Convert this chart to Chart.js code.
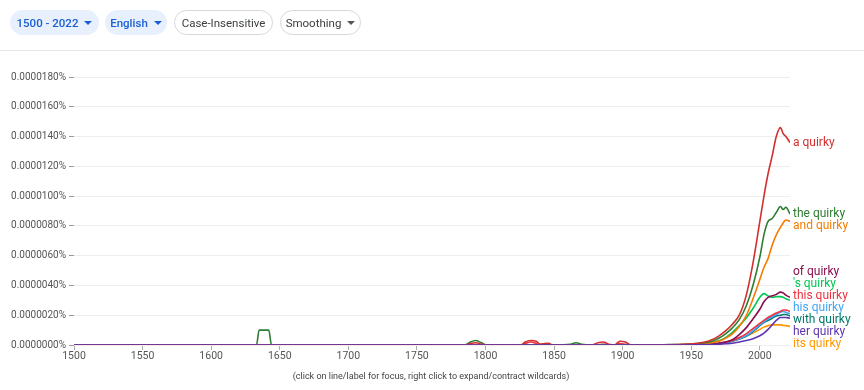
<!DOCTYPE html>
<html>
<head>
<meta charset="utf-8">
<script src="https://cdn.jsdelivr.net/npm/chart.js@4.4.0/dist/chart.umd.min.js"></script>
<style>
body { margin: 0; width: 864px; height: 390px; overflow: hidden; background: #fff; font-family: Roboto, sans-serif; position: relative; }
#chart { position: absolute; left: 0; top: 0; }
.bar { position: absolute; left: 0; top: 0; width: 864px; height: 50px; border-bottom: 1px solid #e6e6e6; }
.pill { position: absolute; top: 10px; height: 25px; border-radius: 13px; box-sizing: border-box; font-size: 11.5px;
        display: flex; align-items: center; justify-content: center; }
.blue { background: #e8f0fe; color: #1a5fcf; font-weight: 500; }
.plain { border: 1px solid #d6d8db; color: #3c4043; }
.arrow { display: inline-block; width: 0; height: 0; margin-left: 6px; border-left: 4px solid transparent;
         border-right: 4px solid transparent; border-top: 4px solid currentColor; }
.note { position: absolute; left: 0; width: 862px; top: 371px; text-align: center; font-size: 9px; color: #444; }
</style>
</head>
<body>
<canvas id="chart" width="864" height="390"></canvas>
<div class="bar">
  <div class="pill blue" style="left:10px;width:89px">1500 - 2022<span class="arrow"></span></div>
  <div class="pill blue" style="left:105px;width:62px">English<span class="arrow"></span></div>
  <div class="pill plain" style="left:174px;width:99px">Case-Insensitive</div>
  <div class="pill plain" style="left:280px;width:81px">Smoothing<span class="arrow" style="color:#555"></span></div>
</div>
<div class="note">(click on line/label for focus, right click to expand/contract wildcards)</div>
<script>
// values in millionths of a percent (1 = 0.0000010%)
let years = [1500, 1633, 1635, 1642, 1644, 1785, 1789, 1793, 1797, 1801,
             1826, 1829, 1833, 1837, 1840, 1843, 1846, 1849, 1862, 1866,
             1870, 1878, 1882, 1886, 1890, 1894, 1898, 1902, 1906, 1930,
             1940, 1950, 1955, 1960, 1965, 1970, 1975, 1980, 1985, 1990,
             1995, 2000, 2003, 2006, 2009, 2012, 2015, 2017, 2019, 2022];

let aQuirky    = [0, 0, 0, 0, 0, 0, 0.1, 0.15, 0.05, 0,
                  0, 0.2, 0.3, 0.25, 0.05, 0.1, 0.12, 0, 0, 0,
                  0, 0, 0.15, 0.2, 0.05, 0, 0.25, 0.2, 0, 0.02,
                  0.03, 0.08, 0.12, 0.2, 0.35, 0.6, 0.95, 1.4, 2.0, 3.3,
                  5.5, 8.3, 10.0, 11.5, 12.7, 14.0, 14.6, 14.2, 14.0, 13.6];
let theQuirky  = [0, 0, 1.0, 1.0, 0, 0, 0.2, 0.3, 0.15, 0,
                  0, 0, 0, 0, 0, 0, 0, 0, 0.05, 0.15,
                  0.05, 0, 0, 0, 0, 0, 0, 0, 0, 0.02,
                  0.03, 0.06, 0.1, 0.15, 0.25, 0.45, 0.75, 1.15, 1.7, 2.6,
                  4.0, 5.9, 7.4, 8.3, 8.5, 8.9, 9.3, 9.1, 9.25, 8.8];
let andQuirky  = [0, 0, 0, 0, 0, 0, 0, 0, 0, 0,
                  0, 0, 0, 0, 0.05, 0, 0, 0, 0, 0,
                  0, 0, 0, 0, 0, 0, 0, 0, 0, 0.01,
                  0.02, 0.03, 0.05, 0.08, 0.15, 0.25, 0.45, 0.75, 1.25, 1.95,
                  3.1, 4.4, 5.2, 5.8, 6.7, 7.4, 7.9, 8.2, 8.4, 8.3];
let ofQuirky   = [0, 0, 0, 0, 0, 0, 0, 0, 0, 0,
                  0, 0, 0, 0, 0, 0, 0, 0, 0, 0,
                  0, 0, 0, 0.05, 0, 0, 0, 0, 0, 0,
                  0, 0.01, 0.02, 0.04, 0.07, 0.12, 0.2, 0.35, 0.7, 1.15,
                  1.75, 2.4, 2.9, 3.2, 3.3, 3.4, 3.55, 3.5, 3.35, 3.2];
let sQuirky    = [0, 0, 0, 0, 0, 0, 0, 0, 0, 0,
                  0, 0, 0, 0, 0, 0, 0, 0, 0, 0,
                  0, 0, 0, 0, 0, 0, 0, 0, 0, 0.01,
                  0.01, 0.02, 0.04, 0.08, 0.15, 0.28, 0.5, 0.85, 1.3, 1.8,
                  2.45, 3.2, 3.45, 3.3, 3.2, 3.25, 3.25, 3.2, 3.1, 3.0];
let thisQuirky = [0, 0, 0, 0, 0, 0, 0, 0, 0, 0,
                  0, 0.1, 0.2, 0.1, 0, 0, 0, 0, 0, 0,
                  0, 0, 0, 0, 0, 0, 0.1, 0.05, 0, 0,
                  0, 0.01, 0.02, 0.04, 0.07, 0.12, 0.2, 0.3, 0.5, 0.75,
                  1.1, 1.45, 1.65, 1.85, 2.0, 2.15, 2.25, 2.35, 2.35, 2.25];
let hisQuirky  = [0, 0, 0, 0, 0, 0, 0, 0, 0, 0,
                  0, 0, 0, 0, 0, 0, 0, 0, 0, 0,
                  0, 0, 0, 0, 0, 0, 0, 0, 0, 0,
                  0, 0.01, 0.02, 0.03, 0.05, 0.1, 0.17, 0.27, 0.42, 0.62,
                  0.95, 1.35, 1.55, 1.75, 1.9, 2.05, 2.2, 2.25, 2.2, 2.1];
let withQuirky = [0, 0, 0, 0, 0, 0, 0, 0, 0, 0,
                  0, 0, 0, 0, 0, 0, 0, 0, 0, 0,
                  0, 0, 0, 0, 0, 0, 0, 0, 0, 0,
                  0, 0.01, 0.02, 0.03, 0.05, 0.09, 0.15, 0.25, 0.4, 0.58,
                  0.9, 1.3, 1.5, 1.65, 1.8, 1.95, 2.0, 2.05, 2.05, 1.95];
let herQuirky  = [0, 0, 0, 0, 0, 0, 0, 0, 0, 0,
                  0, 0, 0, 0, 0, 0, 0, 0, 0, 0,
                  0, 0, 0, 0, 0, 0, 0, 0, 0, 0,
                  0, 0, 0.01, 0.02, 0.03, 0.05, 0.08, 0.12, 0.2, 0.3,
                  0.42, 0.62, 0.8, 1.05, 1.35, 1.65, 1.85, 1.85, 1.85, 1.8];
let itsQuirky  = [0, 0, 0, 0, 0, 0, 0, 0, 0, 0,
                  0, 0, 0, 0, 0, 0, 0, 0, 0, 0,
                  0, 0, 0, 0, 0, 0, 0, 0, 0, 0,
                  0, 0.01, 0.02, 0.03, 0.05, 0.08, 0.15, 0.25, 0.4, 0.58,
                  0.8, 1.05, 1.2, 1.3, 1.35, 1.35, 1.35, 1.32, 1.3, 1.25];

let seriesNames  = ['a quirky', 'the quirky', 'and quirky', 'of quirky', "'s quirky",
                    'this quirky', 'his quirky', 'with quirky', 'her quirky', 'its quirky'];
let seriesValues = [aQuirky, theQuirky, andQuirky, ofQuirky, sQuirky,
                    thisQuirky, hisQuirky, withQuirky, herQuirky, itsQuirky];
let seriesColors = ['#d32f2f', '#2e7d32', '#f57c00', '#880e4f', '#00c853',
                    '#ef3340', '#42a5f5', '#00796b', '#5e35b1', '#ff9800'];

let xTicks = [1500, 1550, 1600, 1650, 1700, 1750, 1800, 1850, 1900, 1950, 2000];
let xTickLabels = ['1500', '1550', '1600', '1650', '1700', '1750', '1800', '1850', '1900', '1950', '2000'];
let yTicks = [0, 2, 4, 6, 8, 10, 12, 14, 16, 18];
let yTickLabels = ['0.0000000%', '0.0000020%', '0.0000040%', '0.0000060%', '0.0000080%',
                   '0.0000100%', '0.0000120%', '0.0000140%', '0.0000160%', '0.0000180%'];

let datasets = seriesNames.map((name, i) => ({
    label: name,
    data: years.map((yr, j) => ({x: yr, y: seriesValues[i][j]})),
    borderColor: seriesColors[i],
    order: name == 'her quirky' ? -1 : i
}));

// series names at the right end, pushed apart so they don't overlap
let endLabels = {
    id: 'endLabels',
    afterDatasetsDraw(chart) {
        let {ctx, chartArea, scales} = chart;
        let items = chart.data.datasets.map(ds => ({
            text: ds.label,
            color: ds.borderColor,
            y: scales.y.getPixelForValue(ds.data[ds.data.length - 1].y)
        }));
        items.sort((a, b) => a.y - b.y);
        let gap = 12;
        for (let i = 1; i < items.length; i++) {
            if (items[i].y < items[i - 1].y + gap) items[i].y = items[i - 1].y + gap;
        }
        let limit = chartArea.bottom - 1;
        for (let i = items.length - 1; i >= 0; i--) {
            if (items[i].y > limit) items[i].y = limit;
            limit = items[i].y - gap;
        }
        ctx.save();
        ctx.font = '12px Roboto';
        ctx.textBaseline = 'middle';
        items.forEach(it => {
            ctx.fillStyle = it.color;
            ctx.fillText(it.text, chartArea.right + 3, it.y);
        });
        ctx.restore();
    }
};

let myChart = document.getElementById('chart').getContext('2d');
let ngramChart = new Chart(myChart, {
    type: 'line',
    data: { datasets: datasets },
    options: {
        responsive: false,
        animation: false,
        layout: { padding: { top: 77, right: 74, bottom: 0, left: 0 } },
        plugins: { legend: { display: false }, tooltip: { enabled: false } },
        elements: {
            point: { radius: 0 },
            line: { borderWidth: 1.6, cubicInterpolationMode: 'monotone', fill: false }
        },
        scales: {
            x: {
                type: 'linear',
                min: 1500,
                max: 2022,
                afterFit: s => { s.height = 45; },
                afterBuildTicks: s => { s.ticks = xTicks.map(v => ({ value: v })); },
                ticks: {
                    padding: 0,
                    color: '#555',
                    font: { family: 'Roboto', size: 10.5 },
                    maxRotation: 0,
                    autoSkip: false,
                    callback: (v, i) => xTickLabels[i]
                },
                grid: { drawOnChartArea: false, tickLength: 5, color: '#aaa' },
                border: { display: false }
            },
            y: {
                min: 0,
                max: 18,
                afterFit: s => { s.width = 74; },
                afterBuildTicks: s => { s.ticks = yTicks.map(v => ({ value: v })); },
                ticks: {
                    padding: 3,
                    color: '#555',
                    font: { family: 'Roboto', size: 10 },
                    callback: (v, i) => yTickLabels[i]
                },
                grid: { color: '#eeeeee', tickColor: '#999', tickLength: 5 },
                border: { display: false }
            }
        }
    },
    plugins: [endLabels]
});
</script>
</body>
</html>
